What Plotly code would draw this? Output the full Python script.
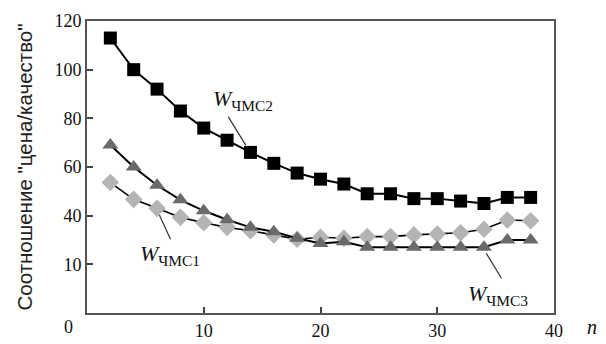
import plotly.graph_objects as go

n = [2, 4, 6, 8, 10, 12, 14, 16, 18, 20, 22, 24, 26, 28, 30, 32, 34, 36, 38]
w_chms2 = [113, 100, 92, 83, 76, 71, 66, 61.5, 57.5, 55, 53, 49, 49, 47, 47, 46, 45, 47.5, 47.5]
w_chms3 = [69, 60, 52.5, 46.5, 42, 38.3, 35.2, 33.4, 30.7, 28.6, 29.3, 27, 27, 27, 27, 27, 27, 30, 30]
w_chms1 = [53.6, 46.7, 43, 39.3, 37.1, 35.2, 33.8, 32.1, 30.3, 31.1, 30.7, 31.4, 31.4, 32.1, 32.5, 33, 34.4, 38.2, 37.9]

y_tickvals = [20, 40, 60, 80, 100, 120]
y_ticktext = ["10", "40", "60", "80", "100", "120"]
x_tickvals = [10, 20, 30, 40]
x_ticktext = ["10", "20", "30", "40"]

serif = "Liberation Serif"
W, H = 606, 344
ML, MR, MT, MB = 87, 52, 21, 31
PW, PH = W - ML - MR, H - MT - MB

fig = go.Figure()
fig.add_trace(go.Scatter(x=n, y=w_chms1, mode="lines+markers",
                         line=dict(color="black", width=1.6),
                         marker=dict(symbol="diamond", size=13.5, color="#b4b4b4"),
                         showlegend=False))
fig.add_trace(go.Scatter(x=n, y=w_chms3, mode="lines+markers",
                         line=dict(color="black", width=2),
                         marker=dict(symbol="triangle-up", size=14, color="#6a6a6a"),
                         showlegend=False))
fig.add_trace(go.Scatter(x=n, y=w_chms2, mode="lines+markers",
                         line=dict(color="black", width=2),
                         marker=dict(symbol="square", size=13, color="black"),
                         showlegend=False))

# leader lines
for (x0, y0, x1, y1) in [(12.1, 80.6, 13.6, 69.0), (6.2, 40.3, 7.15, 30.3), (34.2, 24.5, 35.5, 14.3)]:
    fig.add_shape(type="line", x0=x0, y0=y0, x1=x1, y1=y1, xref="x", yref="y",
                  line=dict(color="#333333", width=1.2))

labels = [("ЧМС2", 13.4, 87.5), ("ЧМС1", 7.1, 23.8), ("ЧМС3", 35.2, 7.4)]
for sub, x, y in labels:
    fig.add_annotation(x=x, y=y, xref="x", yref="y", showarrow=False,
                       text=f"<i>W</i><sub>{sub}</sub>",
                       font=dict(family=serif, size=22, color="#111111"))

ypix = -(327 - (H - MB)) / PH
fig.add_annotation(x=(68 - ML) / PW, y=ypix, xref="paper", yref="paper", showarrow=False,
                   text="0", font=dict(family=serif, size=18, color="#111111"),
                   xanchor="center", yanchor="middle")
fig.add_annotation(x=(592 - ML) / PW, y=ypix, xref="paper", yref="paper", showarrow=False,
                   text="<i>n</i>", font=dict(family=serif, size=20, color="#111111"),
                   xanchor="center", yanchor="middle")

fig.update_layout(
    width=W, height=H,
    margin=dict(l=ML, r=MR, t=MT, b=MB),
    paper_bgcolor="white", plot_bgcolor="white",
    font=dict(family=serif, size=18, color="#111111"),
    xaxis=dict(range=[0, 40], tickvals=x_tickvals, ticktext=x_ticktext, automargin=False,
               ticks="inside", ticklen=6, tickcolor="#444", tickwidth=1.5,
               showgrid=False, zeroline=False, showline=True, linecolor="#555",
               linewidth=2, mirror=True, tickfont=dict(family=serif, size=18)),
    yaxis=dict(range=[0, 120], tickvals=y_tickvals, ticktext=y_ticktext, automargin=False,
               ticks="inside", ticklen=6, tickcolor="#444", tickwidth=1.5,
               showgrid=False, zeroline=False, showline=True, linecolor="#555",
               linewidth=2, mirror=True, tickfont=dict(family=serif, size=18),
               title=dict(text="Соотношение \"цена/качество\"",
                          font=dict(family="Liberation Sans", size=20.5, color="#222"),
                          standoff=16)),
)

fig.write_html("out.html", config={"displayModeBar": False},
               post_script="document.body.style.margin='0px';document.body.style.overflow='hidden';")
